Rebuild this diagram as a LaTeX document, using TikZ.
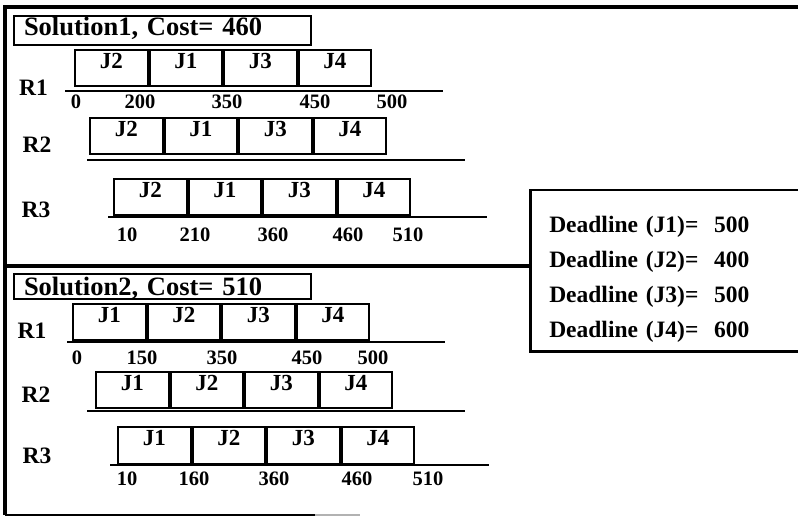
\documentclass[tikz,border=0pt]{standalone}
\usepackage{fontspec}
\setmainfont{Liberation Serif}
\usetikzlibrary{positioning}

\begin{document}
\begin{tikzpicture}[x=1pt, y=-1pt,
    jobbox/.style={rectangle, draw, line width=2pt, minimum width=72.5pt,
        text height=15pt, text depth=14pt, inner ysep=3.5pt, inner xsep=0pt,
        font=\fontsize{23}{23}\selectfont\bfseries},
    reslabel/.style={font=\fontsize{23.5}{23.5}\selectfont\bfseries},
    ticklabel/.style={font=\fontsize{20.5}{20.5}\selectfont\bfseries, inner sep=0pt},
    titlebox/.style={rectangle, draw, line width=2pt, anchor=north west,
        text width=277pt, inner xsep=10pt, inner ysep=1pt, align=left,
        font=\fontsize{26.5}{26.5}\selectfont\bfseries},
    dlbox/.style={rectangle, draw, line width=2.5pt, anchor=north west,
        text width=250pt, inner xsep=19pt, inner ysep=9pt, align=left,
        font=\fontsize{23.5}{35}\selectfont\bfseries},
    timeline/.style={line width=2.2pt},
    frame/.style={line width=3.5pt}
]
    \useasboundingbox (0,0) rectangle (798,518);

    \draw[frame] (5,515) -- (5,7) -- (810,7);
    \draw[line width=2.5pt] (5,515) -- (315,515);
    \draw[line width=1.5pt, gray!60] (315,515) -- (360,515);

    \node[dlbox] (deadlines) at (529,189)
        {\rule{0pt}{33pt}Deadline (J1)=~~500\\ Deadline (J2)=~~400\\
         Deadline (J3)=~~500\\ Deadline (J4)=~~600};
    \coordinate (divleft) at (5,266);
    \draw[frame] (divleft) -- (divleft -| deadlines.west);

    \node[titlebox, text height=19pt, text depth=8pt] (sol1) at (13,15) {Solution1, Cost= 460};

    \node[reslabel] (s1r1) at (33.5,88) {R1};
    \node[jobbox, anchor=west] (s1r1j2) at (74,68.5) {J2};
    \node[jobbox, right=0pt of s1r1j2] (s1r1j1) {J1};
    \node[jobbox, right=0pt of s1r1j1] (s1r1j3) {J3};
    \node[jobbox, right=0pt of s1r1j3] (s1r1j4) {J4};
    \draw[timeline] (65,91) -- (443,91);
    \node[ticklabel] (s1t0) at (76,102) {0};
    \node[ticklabel] (s1t200) at (140,102) {200};
    \node[ticklabel] (s1t350) at (227,102) {350};
    \node[ticklabel] (s1t450) at (315,102) {450};
    \node[ticklabel] (s1t500) at (392,102) {500};

    \node[reslabel] (s1r2) at (37,145) {R2};
    \node[jobbox, anchor=west] (s1r2j2) at (89,136.5) {J2};
    \node[jobbox, right=0pt of s1r2j2] (s1r2j1) {J1};
    \node[jobbox, right=0pt of s1r2j1] (s1r2j3) {J3};
    \node[jobbox, right=0pt of s1r2j3] (s1r2j4) {J4};
    \draw[timeline] (87,160) -- (465,160);

    \node[reslabel] (s1r3) at (36,210) {R3};
    \node[jobbox, anchor=west] (s1r3j2) at (113,197) {J2};
    \node[jobbox, right=0pt of s1r3j2] (s1r3j1) {J1};
    \node[jobbox, right=0pt of s1r3j1] (s1r3j3) {J3};
    \node[jobbox, right=0pt of s1r3j3] (s1r3j4) {J4};
    \draw[timeline] (108,217) -- (487,217);
    \node[ticklabel] (s1t10) at (127,235) {10};
    \node[ticklabel] (s1t210) at (195,235) {210};
    \node[ticklabel] (s1t360) at (273,235) {360};
    \node[ticklabel] (s1t460) at (348,235) {460};
    \node[ticklabel] (s1t510) at (408,235) {510};

    \node[titlebox, text height=21pt, text depth=2pt] (sol2) at (13,273) {Solution2, Cost= 510};

    \node[reslabel] (s2r1) at (32,331) {R1};
    \node[jobbox, anchor=west] (s2r1j1) at (72,322.5) {J1};
    \node[jobbox, right=0pt of s2r1j1] (s2r1j2) {J2};
    \node[jobbox, right=0pt of s2r1j2] (s2r1j3) {J3};
    \node[jobbox, right=0pt of s2r1j3] (s2r1j4) {J4};
    \draw[timeline] (67,342) -- (445,342);
    \node[ticklabel] (s2t0) at (77,358) {0};
    \node[ticklabel] (s2t150) at (142,358) {150};
    \node[ticklabel] (s2t350) at (222,358) {350};
    \node[ticklabel] (s2t450) at (307,358) {450};
    \node[ticklabel] (s2t500) at (373,358) {500};

    \node[reslabel] (s2r2) at (36,395) {R2};
    \node[jobbox, anchor=west] (s2r2j1) at (95,390) {J1};
    \node[jobbox, right=0pt of s2r2j1] (s2r2j2) {J2};
    \node[jobbox, right=0pt of s2r2j2] (s2r2j3) {J3};
    \node[jobbox, right=0pt of s2r2j3] (s2r2j4) {J4};
    \draw[timeline] (87,411) -- (465,411);

    \node[reslabel] (s2r3) at (37,455.5) {R3};
    \node[jobbox, anchor=west] (s2r3j1) at (117,445.5) {J1};
    \node[jobbox, right=0pt of s2r3j1] (s2r3j2) {J2};
    \node[jobbox, right=0pt of s2r3j2] (s2r3j3) {J3};
    \node[jobbox, right=0pt of s2r3j3] (s2r3j4) {J4};
    \draw[timeline] (110,465) -- (489,465);
    \node[ticklabel] (s2t10) at (127,479) {10};
    \node[ticklabel] (s2t160) at (194,479) {160};
    \node[ticklabel] (s2t360) at (274,479) {360};
    \node[ticklabel] (s2t460) at (357,479) {460};
    \node[ticklabel] (s2t510) at (428,479) {510};
\end{tikzpicture}
\end{document}
